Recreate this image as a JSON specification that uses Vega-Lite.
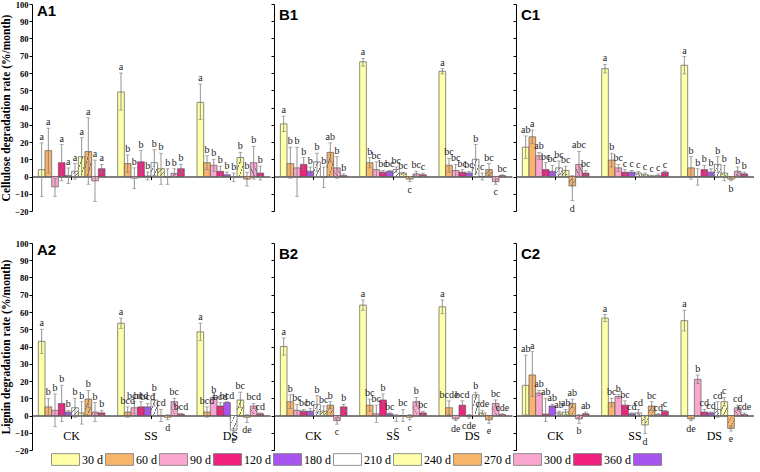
{
"$schema":"https://vega.github.io/schema/vega-lite/v6.json",
"padding":{"left":0,"top":0,"right":0,"bottom":0},
"params":[
{"name":"gF","expr":"{gradient:'linear',x1:0,y1:0,x2:1,y2:1,stops:[{offset:0,color:'rgba(255,255,255,0)'},{offset:0.3,color:'rgba(255,255,255,0)'},{offset:0.3,color:'#777'},{offset:0.36,color:'#777'},{offset:0.36,color:'rgba(255,255,255,0)'},{offset:0.64,color:'rgba(255,255,255,0)'},{offset:0.64,color:'#777'},{offset:0.7,color:'#777'},{offset:0.7,color:'rgba(255,255,255,0)'},{offset:1,color:'rgba(255,255,255,0)'}]}"},
{"name":"gB","expr":"{gradient:'linear',x1:0,y1:1,x2:1,y2:0,stops:[{offset:0,color:'rgba(255,255,255,0)'},{offset:0.3,color:'rgba(255,255,255,0)'},{offset:0.3,color:'#777'},{offset:0.36,color:'#777'},{offset:0.36,color:'rgba(255,255,255,0)'},{offset:0.64,color:'rgba(255,255,255,0)'},{offset:0.64,color:'#777'},{offset:0.7,color:'#777'},{offset:0.7,color:'rgba(255,255,255,0)'},{offset:1,color:'rgba(255,255,255,0)'}]}"}
],
"datasets":{"d":[
{"p":"A1","s":"CK","t":"30 d","v":4,"lo":-11.5,"hi":19.5,"l":"a"},
{"p":"A1","s":"CK","t":"60 d","v":15,"lo":2,"hi":28,"l":"a"},
{"p":"A1","s":"CK","t":"90 d","v":-6,"lo":-11.5,"hi":-1,"l":""},
{"p":"A1","s":"CK","t":"120 d","v":8,"lo":-2.5,"hi":18.5,"l":"a"},
{"p":"A1","s":"CK","t":"180 d","v":0.5,"lo":-4,"hi":5,"l":"a"},
{"p":"A1","s":"CK","t":"210 d","v":3,"lo":-1.5,"hi":7.5,"l":"a"},
{"p":"A1","s":"CK","t":"240 d","v":11.5,"lo":0,"hi":22.5,"l":"a"},
{"p":"A1","s":"CK","t":"270 d","v":14.5,"lo":-4.5,"hi":34,"l":"a"},
{"p":"A1","s":"CK","t":"300 d","v":-2.5,"lo":-14.5,"hi":9.5,"l":"a"},
{"p":"A1","s":"CK","t":"360 d","v":4.5,"lo":2,"hi":7,"l":"a"},
{"p":"A1","s":"SS","t":"30 d","v":49,"lo":38.5,"hi":60,"l":"a"},
{"p":"A1","s":"SS","t":"60 d","v":7.5,"lo":2.5,"hi":12.5,"l":"b"},
{"p":"A1","s":"SS","t":"90 d","v":-1,"lo":-7,"hi":5,"l":"b"},
{"p":"A1","s":"SS","t":"120 d","v":8.5,"lo":2,"hi":15,"l":"b"},
{"p":"A1","s":"SS","t":"180 d","v":0.3,"lo":-2,"hi":2.6,"l":"b"},
{"p":"A1","s":"SS","t":"210 d","v":8,"lo":0.5,"hi":15.5,"l":"b"},
{"p":"A1","s":"SS","t":"240 d","v":4.5,"lo":-4.5,"hi":13.5,"l":"b"},
{"p":"A1","s":"SS","t":"270 d","v":-0.3,"lo":-4.5,"hi":4.5,"l":"b"},
{"p":"A1","s":"SS","t":"300 d","v":1.8,"lo":-0.5,"hi":4.5,"l":"b"},
{"p":"A1","s":"SS","t":"360 d","v":4.5,"lo":2,"hi":7,"l":"b"},
{"p":"A1","s":"DS","t":"30 d","v":43,"lo":33,"hi":53.5,"l":"a"},
{"p":"A1","s":"DS","t":"60 d","v":8,"lo":4,"hi":12,"l":"b"},
{"p":"A1","s":"DS","t":"90 d","v":6.5,"lo":3,"hi":10,"l":"b"},
{"p":"A1","s":"DS","t":"120 d","v":3,"lo":0,"hi":6,"l":"b"},
{"p":"A1","s":"DS","t":"180 d","v":1,"lo":-0.5,"hi":2.5,"l":"b"},
{"p":"A1","s":"DS","t":"210 d","v":-0.5,"lo":-3,"hi":2,"l":"b"},
{"p":"A1","s":"DS","t":"240 d","v":11,"lo":8,"hi":14,"l":"b"},
{"p":"A1","s":"DS","t":"270 d","v":-1.5,"lo":-5.5,"hi":2.5,"l":"b"},
{"p":"A1","s":"DS","t":"300 d","v":8,"lo":-1.5,"hi":17.5,"l":"b"},
{"p":"A1","s":"DS","t":"360 d","v":2,"lo":-2,"hi":6,"l":"b"},
{"p":"B1","s":"CK","t":"30 d","v":30.5,"lo":26,"hi":35,"l":"a"},
{"p":"B1","s":"CK","t":"60 d","v":7.5,"lo":-1,"hi":17,"l":"b"},
{"p":"B1","s":"CK","t":"90 d","v":5,"lo":-11.5,"hi":17,"l":"b"},
{"p":"B1","s":"CK","t":"120 d","v":7,"lo":4,"hi":11,"l":"b"},
{"p":"B1","s":"CK","t":"180 d","v":3,"lo":1,"hi":5.5,"l":"b"},
{"p":"B1","s":"CK","t":"210 d","v":8.5,"lo":3,"hi":13.5,"l":"b"},
{"p":"B1","s":"CK","t":"240 d","v":-0.3,"lo":-6.5,"hi":5.5,"l":"b"},
{"p":"B1","s":"CK","t":"270 d","v":14,"lo":8.5,"hi":19.5,"l":"ab"},
{"p":"B1","s":"CK","t":"300 d","v":5,"lo":-1,"hi":11.5,"l":"b"},
{"p":"B1","s":"CK","t":"360 d","v":0.5,"lo":-0.5,"hi":1.5,"l":"b"},
{"p":"B1","s":"SS","t":"30 d","v":66.5,"lo":64,"hi":68.5,"l":"a"},
{"p":"B1","s":"SS","t":"60 d","v":8,"lo":5,"hi":11,"l":"b"},
{"p":"B1","s":"SS","t":"90 d","v":4,"lo":0,"hi":8.5,"l":"bc"},
{"p":"B1","s":"SS","t":"120 d","v":2.5,"lo":1.5,"hi":3.5,"l":"bc"},
{"p":"B1","s":"SS","t":"180 d","v":3,"lo":2.5,"hi":3.5,"l":"bc"},
{"p":"B1","s":"SS","t":"210 d","v":4,"lo":2.5,"hi":5.5,"l":"bc"},
{"p":"B1","s":"SS","t":"240 d","v":2,"lo":1.5,"hi":2.5,"l":"bc"},
{"p":"B1","s":"SS","t":"270 d","v":-1.5,"lo":-3,"hi":0,"l":"c"},
{"p":"B1","s":"SS","t":"300 d","v":1.5,"lo":0,"hi":3,"l":"bc"},
{"p":"B1","s":"SS","t":"360 d","v":1,"lo":0,"hi":2,"l":"c"},
{"p":"B1","s":"DS","t":"30 d","v":61,"lo":59.5,"hi":62.5,"l":"a"},
{"p":"B1","s":"DS","t":"60 d","v":6.5,"lo":2.5,"hi":10.5,"l":"bc"},
{"p":"B1","s":"DS","t":"90 d","v":3.5,"lo":0,"hi":7,"l":"bc"},
{"p":"B1","s":"DS","t":"120 d","v":2.5,"lo":1,"hi":4,"l":"bc"},
{"p":"B1","s":"DS","t":"180 d","v":2,"lo":1,"hi":3,"l":"bc"},
{"p":"B1","s":"DS","t":"210 d","v":10,"lo":1.5,"hi":18.5,"l":"b"},
{"p":"B1","s":"DS","t":"240 d","v":0,"lo":-2,"hi":2,"l":"c"},
{"p":"B1","s":"DS","t":"270 d","v":4,"lo":0.5,"hi":7.5,"l":"bc"},
{"p":"B1","s":"DS","t":"300 d","v":-3,"lo":-4.5,"hi":-1.5,"l":"c"},
{"p":"B1","s":"DS","t":"360 d","v":0.5,"lo":0,"hi":1,"l":"bc"},
{"p":"C1","s":"CK","t":"30 d","v":17,"lo":10.5,"hi":23.5,"l":"ab"},
{"p":"C1","s":"CK","t":"60 d","v":23,"lo":19,"hi":27,"l":"a"},
{"p":"C1","s":"CK","t":"90 d","v":12,"lo":10,"hi":14,"l":"ab"},
{"p":"C1","s":"CK","t":"120 d","v":4,"lo":0,"hi":8,"l":"bc"},
{"p":"C1","s":"CK","t":"180 d","v":3,"lo":-0.5,"hi":6.5,"l":"bc"},
{"p":"C1","s":"CK","t":"210 d","v":5,"lo":1,"hi":9,"l":"bc"},
{"p":"C1","s":"CK","t":"240 d","v":3.5,"lo":1,"hi":6,"l":"bc"},
{"p":"C1","s":"CK","t":"270 d","v":-5.5,"lo":-14,"hi":0.5,"l":"d"},
{"p":"C1","s":"CK","t":"300 d","v":7,"lo":0,"hi":14.5,"l":"abc"},
{"p":"C1","s":"CK","t":"360 d","v":2,"lo":0.5,"hi":3.5,"l":"bc"},
{"p":"C1","s":"SS","t":"30 d","v":62.5,"lo":60,"hi":65,"l":"a"},
{"p":"C1","s":"SS","t":"60 d","v":9.5,"lo":5.5,"hi":13.5,"l":"b"},
{"p":"C1","s":"SS","t":"90 d","v":5,"lo":3,"hi":7,"l":"bc"},
{"p":"C1","s":"SS","t":"120 d","v":2.5,"lo":1,"hi":4,"l":"c"},
{"p":"C1","s":"SS","t":"180 d","v":2.5,"lo":1.5,"hi":3.5,"l":"c"},
{"p":"C1","s":"SS","t":"210 d","v":2,"lo":1,"hi":3,"l":"c"},
{"p":"C1","s":"SS","t":"240 d","v":1,"lo":0,"hi":2,"l":"c"},
{"p":"C1","s":"SS","t":"270 d","v":0.3,"lo":-0.2,"hi":0.8,"l":"c"},
{"p":"C1","s":"SS","t":"300 d","v":0.5,"lo":-0.5,"hi":1.5,"l":"c"},
{"p":"C1","s":"SS","t":"360 d","v":2.5,"lo":1.8,"hi":3.2,"l":"c"},
{"p":"C1","s":"DS","t":"30 d","v":64.5,"lo":59.5,"hi":69.5,"l":"a"},
{"p":"C1","s":"DS","t":"60 d","v":5,"lo":-1.5,"hi":11.5,"l":"b"},
{"p":"C1","s":"DS","t":"90 d","v":0,"lo":-5,"hi":4.5,"l":"b"},
{"p":"C1","s":"DS","t":"120 d","v":4,"lo":1.5,"hi":6.5,"l":"b"},
{"p":"C1","s":"DS","t":"180 d","v":2.5,"lo":0.5,"hi":4.5,"l":"b"},
{"p":"C1","s":"DS","t":"210 d","v":7,"lo":2.5,"hi":11.5,"l":"b"},
{"p":"C1","s":"DS","t":"240 d","v":2,"lo":-2.5,"hi":6.5,"l":"b"},
{"p":"C1","s":"DS","t":"270 d","v":-1.5,"lo":-2.5,"hi":-0.5,"l":"b"},
{"p":"C1","s":"DS","t":"300 d","v":3,"lo":0.5,"hi":5.5,"l":"b"},
{"p":"C1","s":"DS","t":"360 d","v":1.5,"lo":0.5,"hi":2.5,"l":"b"},
{"p":"A2","s":"CK","t":"30 d","v":43,"lo":36,"hi":50,"l":"a"},
{"p":"A2","s":"CK","t":"60 d","v":5,"lo":0,"hi":10,"l":"b"},
{"p":"A2","s":"CK","t":"90 d","v":3,"lo":-6.5,"hi":12.5,"l":"b"},
{"p":"A2","s":"CK","t":"120 d","v":7,"lo":-3.5,"hi":17.5,"l":"b"},
{"p":"A2","s":"CK","t":"180 d","v":2,"lo":1,"hi":3,"l":"b"},
{"p":"A2","s":"CK","t":"210 d","v":4.5,"lo":-1,"hi":10,"l":"b"},
{"p":"A2","s":"CK","t":"240 d","v":1.5,"lo":-5,"hi":8,"l":"b"},
{"p":"A2","s":"CK","t":"270 d","v":9.5,"lo":4.5,"hi":14.5,"l":"b"},
{"p":"A2","s":"CK","t":"300 d","v":2,"lo":-3.5,"hi":7.5,"l":"b"},
{"p":"A2","s":"CK","t":"360 d","v":1.5,"lo":0,"hi":3,"l":"b"},
{"p":"A2","s":"SS","t":"30 d","v":53.5,"lo":50.5,"hi":56.5,"l":"a"},
{"p":"A2","s":"SS","t":"60 d","v":2,"lo":-1,"hi":5,"l":"bcd"},
{"p":"A2","s":"SS","t":"90 d","v":4.5,"lo":1,"hi":8,"l":"bcd"},
{"p":"A2","s":"SS","t":"120 d","v":5,"lo":2,"hi":8,"l":"bcd"},
{"p":"A2","s":"SS","t":"180 d","v":5,"lo":3,"hi":7,"l":"bcd"},
{"p":"A2","s":"SS","t":"210 d","v":9,"lo":5.5,"hi":12.5,"l":"b"},
{"p":"A2","s":"SS","t":"240 d","v":0,"lo":-3.5,"hi":3.5,"l":"cd"},
{"p":"A2","s":"SS","t":"270 d","v":-1,"lo":-2.5,"hi":0.5,"l":"d"},
{"p":"A2","s":"SS","t":"300 d","v":8,"lo":6,"hi":10,"l":"bc"},
{"p":"A2","s":"SS","t":"360 d","v":0.8,"lo":0.3,"hi":1.3,"l":"bcd"},
{"p":"A2","s":"DS","t":"30 d","v":48.5,"lo":43.5,"hi":53.5,"l":"a"},
{"p":"A2","s":"DS","t":"60 d","v":2,"lo":-1,"hi":5,"l":"bcd"},
{"p":"A2","s":"DS","t":"90 d","v":10.5,"lo":9.5,"hi":11.5,"l":"b"},
{"p":"A2","s":"DS","t":"120 d","v":5.5,"lo":3.5,"hi":7.5,"l":"bcd"},
{"p":"A2","s":"DS","t":"180 d","v":7.5,"lo":7,"hi":8,"l":"bcd"},
{"p":"A2","s":"DS","t":"210 d","v":-8.5,"lo":-9.5,"hi":-7.5,"l":"e"},
{"p":"A2","s":"DS","t":"240 d","v":9,"lo":4.5,"hi":13.5,"l":"bc"},
{"p":"A2","s":"DS","t":"270 d","v":-1,"lo":-4,"hi":0.5,"l":"de"},
{"p":"A2","s":"DS","t":"300 d","v":5.5,"lo":4,"hi":7,"l":"bcd"},
{"p":"A2","s":"DS","t":"360 d","v":1,"lo":0.5,"hi":1.5,"l":"cd"},
{"p":"B2","s":"CK","t":"30 d","v":40,"lo":35,"hi":45,"l":"a"},
{"p":"B2","s":"CK","t":"60 d","v":8,"lo":4,"hi":12,"l":"b"},
{"p":"B2","s":"CK","t":"90 d","v":3,"lo":-0.5,"hi":6.5,"l":"bc"},
{"p":"B2","s":"CK","t":"120 d","v":2.5,"lo":1.5,"hi":3.5,"l":"bc"},
{"p":"B2","s":"CK","t":"180 d","v":2.5,"lo":1,"hi":4,"l":"bc"},
{"p":"B2","s":"CK","t":"210 d","v":6.5,"lo":1.5,"hi":11.5,"l":"b"},
{"p":"B2","s":"CK","t":"240 d","v":2.5,"lo":-0.5,"hi":5.5,"l":"bc"},
{"p":"B2","s":"CK","t":"270 d","v":6,"lo":4,"hi":8,"l":"b"},
{"p":"B2","s":"CK","t":"300 d","v":-3,"lo":-5,"hi":-1,"l":"c"},
{"p":"B2","s":"CK","t":"360 d","v":5,"lo":3.5,"hi":6.5,"l":"b"},
{"p":"B2","s":"SS","t":"30 d","v":64,"lo":61,"hi":67,"l":"a"},
{"p":"B2","s":"SS","t":"60 d","v":6,"lo":2.5,"hi":9.5,"l":"bc"},
{"p":"B2","s":"SS","t":"90 d","v":1,"lo":-4,"hi":6,"l":"bc"},
{"p":"B2","s":"SS","t":"120 d","v":9,"lo":5.5,"hi":12.5,"l":"b"},
{"p":"B2","s":"SS","t":"180 d","v":1,"lo":0.5,"hi":1.5,"l":"bc"},
{"p":"B2","s":"SS","t":"210 d","v":-0.5,"lo":-3.5,"hi":0.5,"l":"c"},
{"p":"B2","s":"SS","t":"240 d","v":0,"lo":-3.5,"hi":3.5,"l":"bc"},
{"p":"B2","s":"SS","t":"270 d","v":-1,"lo":-2.5,"hi":0.5,"l":"c"},
{"p":"B2","s":"SS","t":"300 d","v":8,"lo":5.5,"hi":10.5,"l":"b"},
{"p":"B2","s":"SS","t":"360 d","v":1.5,"lo":0.5,"hi":2.5,"l":"bc"},
{"p":"B2","s":"DS","t":"30 d","v":63,"lo":59,"hi":67,"l":"a"},
{"p":"B2","s":"DS","t":"60 d","v":4.5,"lo":0.5,"hi":8.5,"l":"bcde"},
{"p":"B2","s":"DS","t":"90 d","v":-2,"lo":-3,"hi":-1,"l":"de"},
{"p":"B2","s":"DS","t":"120 d","v":6,"lo":3.5,"hi":8.5,"l":"bcd"},
{"p":"B2","s":"DS","t":"180 d","v":-0.3,"lo":-1.5,"hi":0.5,"l":"cde"},
{"p":"B2","s":"DS","t":"210 d","v":12,"lo":10.5,"hi":13.5,"l":"b"},
{"p":"B2","s":"DS","t":"240 d","v":1.5,"lo":0,"hi":3,"l":"cde"},
{"p":"B2","s":"DS","t":"270 d","v":-2.5,"lo":-4.5,"hi":-0.5,"l":"e"},
{"p":"B2","s":"DS","t":"300 d","v":7,"lo":5,"hi":9,"l":"bc"},
{"p":"B2","s":"DS","t":"360 d","v":0.5,"lo":0,"hi":1,"l":"cde"},
{"p":"C2","s":"CK","t":"30 d","v":17.5,"lo":0.5,"hi":35,"l":"ab"},
{"p":"C2","s":"CK","t":"60 d","v":23.5,"lo":11,"hi":37,"l":"a"},
{"p":"C2","s":"CK","t":"90 d","v":13,"lo":11.5,"hi":14.5,"l":"ab"},
{"p":"C2","s":"CK","t":"120 d","v":0.8,"lo":-3.5,"hi":10,"l":"ab"},
{"p":"C2","s":"CK","t":"180 d","v":5.5,"lo":4.5,"hi":6.5,"l":"ab"},
{"p":"C2","s":"CK","t":"210 d","v":1.5,"lo":0.5,"hi":2.5,"l":"ab"},
{"p":"C2","s":"CK","t":"240 d","v":2,"lo":0.5,"hi":3.5,"l":"ab"},
{"p":"C2","s":"CK","t":"270 d","v":7,"lo":4.5,"hi":9.5,"l":"ab"},
{"p":"C2","s":"CK","t":"300 d","v":-2,"lo":-4.5,"hi":0.5,"l":"b"},
{"p":"C2","s":"CK","t":"360 d","v":1,"lo":0,"hi":2,"l":"ab"},
{"p":"C2","s":"SS","t":"30 d","v":56.5,"lo":54.5,"hi":58.5,"l":"a"},
{"p":"C2","s":"SS","t":"60 d","v":7.5,"lo":5,"hi":10,"l":"bc"},
{"p":"C2","s":"SS","t":"90 d","v":11,"lo":10,"hi":12,"l":"b"},
{"p":"C2","s":"SS","t":"120 d","v":6,"lo":3.5,"hi":8.5,"l":"bc"},
{"p":"C2","s":"SS","t":"180 d","v":1,"lo":0.5,"hi":1.5,"l":"cd"},
{"p":"C2","s":"SS","t":"210 d","v":1.5,"lo":-0.5,"hi":3.5,"l":"cd"},
{"p":"C2","s":"SS","t":"240 d","v":-5.5,"lo":-10.5,"hi":-0.5,"l":"d"},
{"p":"C2","s":"SS","t":"270 d","v":5.5,"lo":3,"hi":8,"l":"bc"},
{"p":"C2","s":"SS","t":"300 d","v":0.5,"lo":0,"hi":1,"l":"cd"},
{"p":"C2","s":"SS","t":"360 d","v":2.5,"lo":2,"hi":3,"l":"c"},
{"p":"C2","s":"DS","t":"30 d","v":55,"lo":49,"hi":61,"l":"a"},
{"p":"C2","s":"DS","t":"60 d","v":-2,"lo":-3,"hi":-1,"l":"de"},
{"p":"C2","s":"DS","t":"90 d","v":21,"lo":18.5,"hi":23.5,"l":"b"},
{"p":"C2","s":"DS","t":"120 d","v":2,"lo":0.5,"hi":3.5,"l":"cd"},
{"p":"C2","s":"DS","t":"180 d","v":1.5,"lo":1,"hi":2,"l":"cd"},
{"p":"C2","s":"DS","t":"210 d","v":3.5,"lo":-1,"hi":8,"l":"cd"},
{"p":"C2","s":"DS","t":"240 d","v":8,"lo":5.5,"hi":10.5,"l":"c"},
{"p":"C2","s":"DS","t":"270 d","v":-7.5,"lo":-9,"hi":-6,"l":"e"},
{"p":"C2","s":"DS","t":"300 d","v":4.5,"lo":3,"hi":6,"l":"cd"},
{"p":"C2","s":"DS","t":"360 d","v":0.5,"lo":-0.5,"hi":1.5,"l":"cde"}
]},
"data":{"name":"d"},
"vconcat":[
{"hconcat":[
{"width":238,"height":207,"title":"A1","transform":[{"filter":"datum.p=='A1'"}],
"encoding":{"x":{"field":"s","type":"nominal","sort":["CK","SS","DS"],"scale":{"domain":["CK","SS","DS"],"paddingInner":0.16,"paddingOuter":0.08},"axis":{"title":null,"labels":false,"offset":-34.5,"tickSize":3}},
"xOffset":{"field":"t","type":"nominal","sort":["30 d","60 d","90 d","120 d","180 d","210 d","240 d","270 d","300 d","360 d"],"scale":{"domain":["30 d","60 d","90 d","120 d","180 d","210 d","240 d","270 d","300 d","360 d"]}}},
"layer":[
{"mark":{"type":"bar","stroke":"#5a5a5a","strokeWidth":0.7},"encoding":{"y":{"field":"v","type":"quantitative","scale":{"domain":[-20,100],"nice":false,"zero":false},"axis":{"title":"Cellulose degradation rate (%/month)","labelFontSize":8.5,"labelFontWeight":"bold","titleFontSize":11.5,"titleFontWeight":"bold","labelPadding":1,"titlePadding":3}},"fill":{"field":"t","type":"nominal","scale":{"domain":["30 d","60 d","90 d","120 d","180 d","210 d","240 d","270 d","300 d","360 d"," "],"range":["#FFFFA8","#F8B46A","#FBA6CF","#F2207F","#A855F0","#FFFFFF","#FFFFA8","#F8B46A","#FBA6CF","#F2207F","#A855F0"]},"legend":{"title":null}}}},
{"transform":[{"filter":"indexof(['210 d','240 d','270 d'],datum.t)>=0"}],"mark":{"type":"bar","fill":{"expr":"gF"},"strokeWidth":0},"encoding":{"y":{"field":"v","type":"quantitative"}}},
{"transform":[{"filter":"indexof(['300 d','360 d'],datum.t)>=0"}],"mark":{"type":"bar","fill":{"expr":"gB"},"strokeWidth":0},"encoding":{"y":{"field":"v","type":"quantitative"}}},
{"mark":{"type":"rule","color":"#7a7a7a","strokeWidth":0.8},"encoding":{"y":{"field":"lo","type":"quantitative"},"y2":{"field":"hi"}}},
{"mark":{"type":"tick","color":"#7a7a7a","thickness":0.8,"size":4},"encoding":{"y":{"field":"hi","type":"quantitative"}}},
{"mark":{"type":"tick","color":"#7a7a7a","thickness":0.8,"size":4},"encoding":{"y":{"field":"lo","type":"quantitative"}}},
{"transform":[{"filter":"!(datum.v<0 && datum.hi<=1)"}],"mark":{"type":"text","dy":-3,"baseline":"alphabetic"},"encoding":{"y":{"field":"hi","type":"quantitative"},"text":{"field":"l"}}},
{"transform":[{"filter":"datum.v<0 && datum.hi<=1"}],"mark":{"type":"text","dy":3,"baseline":"top"},"encoding":{"y":{"field":"lo","type":"quantitative"},"text":{"field":"l"}}}
]},
{"width":238,"height":207,"title":"B1","transform":[{"filter":"datum.p=='B1'"}],
"encoding":{"x":{"field":"s","type":"nominal","sort":["CK","SS","DS"],"scale":{"domain":["CK","SS","DS"],"paddingInner":0.16,"paddingOuter":0.08},"axis":{"title":null,"labels":false,"offset":-34.5,"tickSize":3}},
"xOffset":{"field":"t","type":"nominal","sort":["30 d","60 d","90 d","120 d","180 d","210 d","240 d","270 d","300 d","360 d"],"scale":{"domain":["30 d","60 d","90 d","120 d","180 d","210 d","240 d","270 d","300 d","360 d"]}}},
"layer":[
{"mark":{"type":"bar","stroke":"#5a5a5a","strokeWidth":0.7},"encoding":{"y":{"field":"v","type":"quantitative","scale":{"domain":[-20,100],"nice":false,"zero":false},"axis":{"title":null,"labels":false}},"fill":{"field":"t","type":"nominal","scale":{"domain":["30 d","60 d","90 d","120 d","180 d","210 d","240 d","270 d","300 d","360 d"," "],"range":["#FFFFA8","#F8B46A","#FBA6CF","#F2207F","#A855F0","#FFFFFF","#FFFFA8","#F8B46A","#FBA6CF","#F2207F","#A855F0"]},"legend":{"title":null}}}},
{"transform":[{"filter":"indexof(['210 d','240 d','270 d'],datum.t)>=0"}],"mark":{"type":"bar","fill":{"expr":"gF"},"strokeWidth":0},"encoding":{"y":{"field":"v","type":"quantitative"}}},
{"transform":[{"filter":"indexof(['300 d','360 d'],datum.t)>=0"}],"mark":{"type":"bar","fill":{"expr":"gB"},"strokeWidth":0},"encoding":{"y":{"field":"v","type":"quantitative"}}},
{"mark":{"type":"rule","color":"#7a7a7a","strokeWidth":0.8},"encoding":{"y":{"field":"lo","type":"quantitative"},"y2":{"field":"hi"}}},
{"mark":{"type":"tick","color":"#7a7a7a","thickness":0.8,"size":4},"encoding":{"y":{"field":"hi","type":"quantitative"}}},
{"mark":{"type":"tick","color":"#7a7a7a","thickness":0.8,"size":4},"encoding":{"y":{"field":"lo","type":"quantitative"}}},
{"transform":[{"filter":"!(datum.v<0 && datum.hi<=1)"}],"mark":{"type":"text","dy":-3,"baseline":"alphabetic"},"encoding":{"y":{"field":"hi","type":"quantitative"},"text":{"field":"l"}}},
{"transform":[{"filter":"datum.v<0 && datum.hi<=1"}],"mark":{"type":"text","dy":3,"baseline":"top"},"encoding":{"y":{"field":"lo","type":"quantitative"},"text":{"field":"l"}}}
]},
{"width":238,"height":207,"title":"C1","transform":[{"filter":"datum.p=='C1'"}],
"encoding":{"x":{"field":"s","type":"nominal","sort":["CK","SS","DS"],"scale":{"domain":["CK","SS","DS"],"paddingInner":0.16,"paddingOuter":0.08},"axis":{"title":null,"labels":false,"offset":-34.5,"tickSize":3}},
"xOffset":{"field":"t","type":"nominal","sort":["30 d","60 d","90 d","120 d","180 d","210 d","240 d","270 d","300 d","360 d"],"scale":{"domain":["30 d","60 d","90 d","120 d","180 d","210 d","240 d","270 d","300 d","360 d"]}}},
"layer":[
{"mark":{"type":"bar","stroke":"#5a5a5a","strokeWidth":0.7},"encoding":{"y":{"field":"v","type":"quantitative","scale":{"domain":[-20,100],"nice":false,"zero":false},"axis":{"title":null,"labels":false}},"fill":{"field":"t","type":"nominal","scale":{"domain":["30 d","60 d","90 d","120 d","180 d","210 d","240 d","270 d","300 d","360 d"," "],"range":["#FFFFA8","#F8B46A","#FBA6CF","#F2207F","#A855F0","#FFFFFF","#FFFFA8","#F8B46A","#FBA6CF","#F2207F","#A855F0"]},"legend":{"title":null}}}},
{"transform":[{"filter":"indexof(['210 d','240 d','270 d'],datum.t)>=0"}],"mark":{"type":"bar","fill":{"expr":"gF"},"strokeWidth":0},"encoding":{"y":{"field":"v","type":"quantitative"}}},
{"transform":[{"filter":"indexof(['300 d','360 d'],datum.t)>=0"}],"mark":{"type":"bar","fill":{"expr":"gB"},"strokeWidth":0},"encoding":{"y":{"field":"v","type":"quantitative"}}},
{"mark":{"type":"rule","color":"#7a7a7a","strokeWidth":0.8},"encoding":{"y":{"field":"lo","type":"quantitative"},"y2":{"field":"hi"}}},
{"mark":{"type":"tick","color":"#7a7a7a","thickness":0.8,"size":4},"encoding":{"y":{"field":"hi","type":"quantitative"}}},
{"mark":{"type":"tick","color":"#7a7a7a","thickness":0.8,"size":4},"encoding":{"y":{"field":"lo","type":"quantitative"}}},
{"transform":[{"filter":"!(datum.v<0 && datum.hi<=1)"}],"mark":{"type":"text","dy":-3,"baseline":"alphabetic"},"encoding":{"y":{"field":"hi","type":"quantitative"},"text":{"field":"l"}}},
{"transform":[{"filter":"datum.v<0 && datum.hi<=1"}],"mark":{"type":"text","dy":3,"baseline":"top"},"encoding":{"y":{"field":"lo","type":"quantitative"},"text":{"field":"l"}}}
]}
]},
{"hconcat":[
{"width":238,"height":207,"title":"A2","transform":[{"filter":"datum.p=='A2'"}],
"encoding":{"x":{"field":"s","type":"nominal","sort":["CK","SS","DS"],"scale":{"domain":["CK","SS","DS"],"paddingInner":0.16,"paddingOuter":0.08},"axis":{"title":null,"labelAngle":0,"offset":-34.5,"tickSize":3,"labelPadding":12,"labelFontSize":12}},
"xOffset":{"field":"t","type":"nominal","sort":["30 d","60 d","90 d","120 d","180 d","210 d","240 d","270 d","300 d","360 d"],"scale":{"domain":["30 d","60 d","90 d","120 d","180 d","210 d","240 d","270 d","300 d","360 d"]}}},
"layer":[
{"mark":{"type":"bar","stroke":"#5a5a5a","strokeWidth":0.7},"encoding":{"y":{"field":"v","type":"quantitative","scale":{"domain":[-20,100],"nice":false,"zero":false},"axis":{"title":"Lignin degradation rate (%/month)","labelFontSize":8.5,"labelFontWeight":"bold","titleFontSize":11.5,"titleFontWeight":"bold","labelPadding":1,"titlePadding":3}},"fill":{"field":"t","type":"nominal","scale":{"domain":["30 d","60 d","90 d","120 d","180 d","210 d","240 d","270 d","300 d","360 d"," "],"range":["#FFFFA8","#F8B46A","#FBA6CF","#F2207F","#A855F0","#FFFFFF","#FFFFA8","#F8B46A","#FBA6CF","#F2207F","#A855F0"]},"legend":{"title":null}}}},
{"transform":[{"filter":"indexof(['210 d','240 d','270 d'],datum.t)>=0"}],"mark":{"type":"bar","fill":{"expr":"gF"},"strokeWidth":0},"encoding":{"y":{"field":"v","type":"quantitative"}}},
{"transform":[{"filter":"indexof(['300 d','360 d'],datum.t)>=0"}],"mark":{"type":"bar","fill":{"expr":"gB"},"strokeWidth":0},"encoding":{"y":{"field":"v","type":"quantitative"}}},
{"mark":{"type":"rule","color":"#7a7a7a","strokeWidth":0.8},"encoding":{"y":{"field":"lo","type":"quantitative"},"y2":{"field":"hi"}}},
{"mark":{"type":"tick","color":"#7a7a7a","thickness":0.8,"size":4},"encoding":{"y":{"field":"hi","type":"quantitative"}}},
{"mark":{"type":"tick","color":"#7a7a7a","thickness":0.8,"size":4},"encoding":{"y":{"field":"lo","type":"quantitative"}}},
{"transform":[{"filter":"!(datum.v<0 && datum.hi<=1)"}],"mark":{"type":"text","dy":-3,"baseline":"alphabetic"},"encoding":{"y":{"field":"hi","type":"quantitative"},"text":{"field":"l"}}},
{"transform":[{"filter":"datum.v<0 && datum.hi<=1"}],"mark":{"type":"text","dy":3,"baseline":"top"},"encoding":{"y":{"field":"lo","type":"quantitative"},"text":{"field":"l"}}}
]},
{"width":238,"height":207,"title":"B2","transform":[{"filter":"datum.p=='B2'"}],
"encoding":{"x":{"field":"s","type":"nominal","sort":["CK","SS","DS"],"scale":{"domain":["CK","SS","DS"],"paddingInner":0.16,"paddingOuter":0.08},"axis":{"title":null,"labelAngle":0,"offset":-34.5,"tickSize":3,"labelPadding":12,"labelFontSize":12}},
"xOffset":{"field":"t","type":"nominal","sort":["30 d","60 d","90 d","120 d","180 d","210 d","240 d","270 d","300 d","360 d"],"scale":{"domain":["30 d","60 d","90 d","120 d","180 d","210 d","240 d","270 d","300 d","360 d"]}}},
"layer":[
{"mark":{"type":"bar","stroke":"#5a5a5a","strokeWidth":0.7},"encoding":{"y":{"field":"v","type":"quantitative","scale":{"domain":[-20,100],"nice":false,"zero":false},"axis":{"title":null,"labels":false}},"fill":{"field":"t","type":"nominal","scale":{"domain":["30 d","60 d","90 d","120 d","180 d","210 d","240 d","270 d","300 d","360 d"," "],"range":["#FFFFA8","#F8B46A","#FBA6CF","#F2207F","#A855F0","#FFFFFF","#FFFFA8","#F8B46A","#FBA6CF","#F2207F","#A855F0"]},"legend":{"title":null}}}},
{"transform":[{"filter":"indexof(['210 d','240 d','270 d'],datum.t)>=0"}],"mark":{"type":"bar","fill":{"expr":"gF"},"strokeWidth":0},"encoding":{"y":{"field":"v","type":"quantitative"}}},
{"transform":[{"filter":"indexof(['300 d','360 d'],datum.t)>=0"}],"mark":{"type":"bar","fill":{"expr":"gB"},"strokeWidth":0},"encoding":{"y":{"field":"v","type":"quantitative"}}},
{"mark":{"type":"rule","color":"#7a7a7a","strokeWidth":0.8},"encoding":{"y":{"field":"lo","type":"quantitative"},"y2":{"field":"hi"}}},
{"mark":{"type":"tick","color":"#7a7a7a","thickness":0.8,"size":4},"encoding":{"y":{"field":"hi","type":"quantitative"}}},
{"mark":{"type":"tick","color":"#7a7a7a","thickness":0.8,"size":4},"encoding":{"y":{"field":"lo","type":"quantitative"}}},
{"transform":[{"filter":"!(datum.v<0 && datum.hi<=1)"}],"mark":{"type":"text","dy":-3,"baseline":"alphabetic"},"encoding":{"y":{"field":"hi","type":"quantitative"},"text":{"field":"l"}}},
{"transform":[{"filter":"datum.v<0 && datum.hi<=1"}],"mark":{"type":"text","dy":3,"baseline":"top"},"encoding":{"y":{"field":"lo","type":"quantitative"},"text":{"field":"l"}}}
]},
{"width":238,"height":207,"title":"C2","transform":[{"filter":"datum.p=='C2'"}],
"encoding":{"x":{"field":"s","type":"nominal","sort":["CK","SS","DS"],"scale":{"domain":["CK","SS","DS"],"paddingInner":0.16,"paddingOuter":0.08},"axis":{"title":null,"labelAngle":0,"offset":-34.5,"tickSize":3,"labelPadding":12,"labelFontSize":12}},
"xOffset":{"field":"t","type":"nominal","sort":["30 d","60 d","90 d","120 d","180 d","210 d","240 d","270 d","300 d","360 d"],"scale":{"domain":["30 d","60 d","90 d","120 d","180 d","210 d","240 d","270 d","300 d","360 d"]}}},
"layer":[
{"mark":{"type":"bar","stroke":"#5a5a5a","strokeWidth":0.7},"encoding":{"y":{"field":"v","type":"quantitative","scale":{"domain":[-20,100],"nice":false,"zero":false},"axis":{"title":null,"labels":false}},"fill":{"field":"t","type":"nominal","scale":{"domain":["30 d","60 d","90 d","120 d","180 d","210 d","240 d","270 d","300 d","360 d"," "],"range":["#FFFFA8","#F8B46A","#FBA6CF","#F2207F","#A855F0","#FFFFFF","#FFFFA8","#F8B46A","#FBA6CF","#F2207F","#A855F0"]},"legend":{"title":null}}}},
{"transform":[{"filter":"indexof(['210 d','240 d','270 d'],datum.t)>=0"}],"mark":{"type":"bar","fill":{"expr":"gF"},"strokeWidth":0},"encoding":{"y":{"field":"v","type":"quantitative"}}},
{"transform":[{"filter":"indexof(['300 d','360 d'],datum.t)>=0"}],"mark":{"type":"bar","fill":{"expr":"gB"},"strokeWidth":0},"encoding":{"y":{"field":"v","type":"quantitative"}}},
{"mark":{"type":"rule","color":"#7a7a7a","strokeWidth":0.8},"encoding":{"y":{"field":"lo","type":"quantitative"},"y2":{"field":"hi"}}},
{"mark":{"type":"tick","color":"#7a7a7a","thickness":0.8,"size":4},"encoding":{"y":{"field":"hi","type":"quantitative"}}},
{"mark":{"type":"tick","color":"#7a7a7a","thickness":0.8,"size":4},"encoding":{"y":{"field":"lo","type":"quantitative"}}},
{"transform":[{"filter":"!(datum.v<0 && datum.hi<=1)"}],"mark":{"type":"text","dy":-3,"baseline":"alphabetic"},"encoding":{"y":{"field":"hi","type":"quantitative"},"text":{"field":"l"}}},
{"transform":[{"filter":"datum.v<0 && datum.hi<=1"}],"mark":{"type":"text","dy":3,"baseline":"top"},"encoding":{"y":{"field":"lo","type":"quantitative"},"text":{"field":"l"}}}
]}
]}
],
"spacing":23,
"config":{
"concat":{"spacing":0},
"view":{"stroke":null},
"axis":{"grid":false,"domainColor":"#000","tickColor":"#000","labelColor":"#000","titleColor":"#000","labelFont":"Liberation Serif","titleFont":"Liberation Serif","domainWidth":1},
"axisY":{"tickCount":12,"labelOverlap":false,"tickSize":3},
"title":{"anchor":"start","frame":"group","font":"Liberation Sans","fontSize":15,"fontWeight":"bold","color":"#000","offset":-19,"dx":5},
"text":{"font":"Liberation Serif","fontSize":10,"color":"#222"},
"legend":{"orient":"none","legendX":19,"legendY":441,"direction":"horizontal","columns":11,"symbolType":"M-1,-0.42H1V0.42H-1Z","symbolSize":784,"symbolStrokeColor":"#777","symbolStrokeWidth":0.8,"symbolOpacity":1,"labelFont":"Liberation Serif","labelFontSize":12,"labelColor":"#000","labelOffset":2,"columnPadding":0}
}
}
